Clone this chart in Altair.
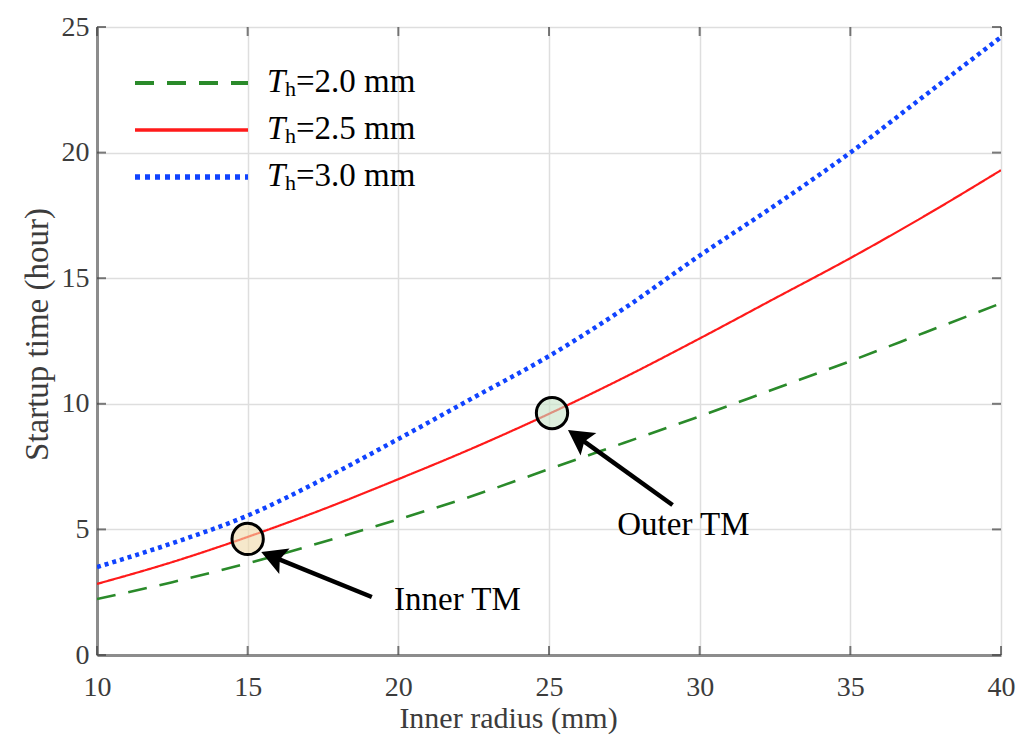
import altair as alt
import pandas as pd

# ---- data ----
radius = [10, 12.5, 15, 17.5, 20, 22.5, 25, 27.5, 30, 32.5, 35, 37.5, 40]
th20 = [2.23, 2.9, 3.65, 4.5, 5.4, 6.35, 7.4, 8.45, 9.5, 10.6, 11.7, 12.85, 14.0]
th25 = [2.83, 3.7, 4.7, 5.8, 7.0, 8.25, 9.6, 11.05, 12.6, 14.2, 15.8, 17.5, 19.3]
th30 = [3.5, 4.45, 5.55, 7.0, 8.6, 10.25, 11.9, 13.8, 15.9, 17.9, 20.0, 22.3, 24.6]

x_ticks = [10, 15, 20, 25, 30, 35, 40]
y_ticks = [0, 5, 10, 15, 20, 25]

legend_text = ["=2.0 mm", "=2.5 mm", "=3.0 mm"]

tm_labels = ["Inner TM", "Outer TM"]
tm_x = [15.0, 25.1]
tm_y = [4.62, 9.63]
tm_fill = ["#f0d9a8", "#c6e2c6"]
arrow_tail_x = [19.12, 29.1]
arrow_tail_y = [2.31, 5.97]
arrow_tip_x = [15.45, 25.63]
arrow_tip_y = [4.10, 8.96]
arrow_angle = [292, 305]
label_x = [21.96, 29.46]
label_y = [1.79, 4.78]

# ---- styles ----
FONT = "Liberation Serif"
GRAY = "#8c8c8c"
TXT = "#3c3c3c"
colors = ["#2a8a2a", "#ff1a1a", "#1043ff"]
dashes = [[19, 13], [1, 0], [4, 4]]
widths = [2.6, 2.2, 4.5]

xs = alt.Scale(domain=[10, 40], nice=False, zero=False)
ys = alt.Scale(domain=[0, 25], nice=False, zero=False)

xaxis = alt.Axis(
    values=x_ticks, title="Inner radius (mm)", grid=True, gridColor="#dedede", gridWidth=1.5,
    tickSize=0, labelPadding=18, labelFontSize=28, labelFont=FONT, labelColor=TXT,
    labelFlush=False, labelOverlap=False,
    domainColor=GRAY, domainWidth=3, titleFont=FONT, titleFontSize=30, titleColor=TXT,
    titleFontWeight="normal", titleX=411, titleY=72, titleBaseline="alphabetic", titleAlign="center",
)
yaxis = alt.Axis(
    values=y_ticks, title="Startup time (hour)", grid=True, gridColor="#dedede", gridWidth=1.5,
    tickSize=0, labelPadding=8, labelFontSize=28, labelFont=FONT, labelColor=TXT,
    labelOverlap=False,
    domainColor=GRAY, domainWidth=3, titleFont=FONT, titleFontSize=33, titleColor=TXT,
    titleFontWeight="normal", titleAngle=270, titleX=-60, titleY=307,
    titleAlign="center", titleBaseline="middle",
)


def X(field=None, datum=None):
    if datum is not None:
        return alt.X(datum=datum, scale=xs, axis=xaxis)
    return alt.X(field, scale=xs, axis=xaxis)


def Y(field=None, datum=None):
    if datum is not None:
        return alt.Y(datum=datum, scale=ys, axis=yaxis)
    return alt.Y(field, scale=ys, axis=yaxis)


series = [th20, th25, th30]
layers = []
for i, vals in enumerate(series):
    df = pd.DataFrame({"radius": radius, "time": vals})
    layers.append(
        alt.Chart(df).mark_line(
            color=colors[i], strokeWidth=widths[i], strokeDash=dashes[i],
            strokeCap="butt", interpolate="monotone", clip=True,
        ).encode(x=X("radius:Q"), y=Y("time:Q"))
    )

# inward ticks on all four sides
xt = pd.DataFrame({"t": x_ticks})
yt = pd.DataFrame({"t": y_ticks})
for yv, off in [(0, -4.5), (25, 4.5)]:
    layers.append(
        alt.Chart(xt).mark_tick(orient="vertical", size=9, thickness=2, color="#444444", yOffset=off)
        .encode(x=X("t:Q"), y=Y(datum=yv))
    )
for xv, off in [(10, 4.5), (40, -4.5)]:
    layers.append(
        alt.Chart(yt).mark_tick(orient="horizontal", size=9, thickness=2, color="#444444", xOffset=off)
        .encode(y=Y("t:Q"), x=X(datum=xv))
    )

# circles marking TMs
tm = pd.DataFrame({"x": tm_x, "y": tm_y, "fill": tm_fill, "label": tm_labels})
layers.append(
    alt.Chart(tm).mark_point(shape="circle", size=980, filled=True, fillOpacity=0.6,
                             stroke="black", strokeWidth=3, strokeOpacity=1)
    .encode(x=X("x:Q"), y=Y("y:Q"), fill=alt.Fill("fill:N", scale=None))
)

# arrows
ar = pd.DataFrame({
    "tx": arrow_tail_x, "ty": arrow_tail_y,
    "hx": arrow_tip_x, "hy": arrow_tip_y, "ang": arrow_angle,
})
ar["sx"] = ar["hx"] + (ar["tx"] - ar["hx"]) * 0.14
ar["sy"] = ar["hy"] + (ar["ty"] - ar["hy"]) * 0.14
layers.append(
    alt.Chart(ar).mark_rule(color="black", strokeWidth=4.5)
    .encode(x=X("tx:Q"), y=Y("ty:Q"), x2="sx:Q", y2="sy:Q")
)
layers.append(
    alt.Chart(ar).mark_point(shape="M0,0 L0.55,1 L0,0.8 L-0.55,1 Z", size=2500,
                             filled=True, color="black", opacity=1)
    .encode(x=X("hx:Q"), y=Y("hy:Q"), angle=alt.Angle("ang:Q", scale=None))
)

# annotation labels
lab = pd.DataFrame({"x": label_x, "y": label_y, "label": tm_labels})
layers.append(
    alt.Chart(lab).mark_text(font=FONT, fontSize=33, color="black", align="center", baseline="alphabetic")
    .encode(x=X("x:Q"), y=Y("y:Q"), text="label:N")
)

# in-plot legend
one = pd.DataFrame({"a": [0]})
for i in range(3):
    yline = 56 + 47 * i
    ybase = 65 + 47 * i
    layers.append(
        alt.Chart(one).mark_rule(color=colors[i], strokeWidth=widths[i] + 1.2,
                                 strokeDash=dashes[i] if i != 2 else [5, 5], strokeCap="butt")
        .encode(x=alt.value(38), x2=alt.value(151), y=alt.value(yline))
    )
    layers.append(
        alt.Chart(one).mark_text(text="T", font=FONT, fontSize=33, fontStyle="italic",
                                 align="left", baseline="alphabetic", color="black")
        .encode(x=alt.value(170), y=alt.value(ybase))
    )
    layers.append(
        alt.Chart(one).mark_text(text="h", font=FONT, fontSize=22,
                                 align="left", baseline="alphabetic", color="black")
        .encode(x=alt.value(188), y=alt.value(ybase + 4))
    )
    layers.append(
        alt.Chart(one).mark_text(text=legend_text[i], font=FONT, fontSize=33,
                                 align="left", baseline="alphabetic", color="black")
        .encode(x=alt.value(199), y=alt.value(ybase))
    )

chart = alt.layer(*layers).properties(
    width=904, height=628,
    autosize=alt.AutoSizeParams(type="none"),
    padding={"left": 89, "top": 19, "right": 15, "bottom": 80},
).configure_view(stroke=GRAY, strokeWidth=3).configure(background="white")

chart.save("out.html", embed_options={"renderer": "svg", "actions": False})
